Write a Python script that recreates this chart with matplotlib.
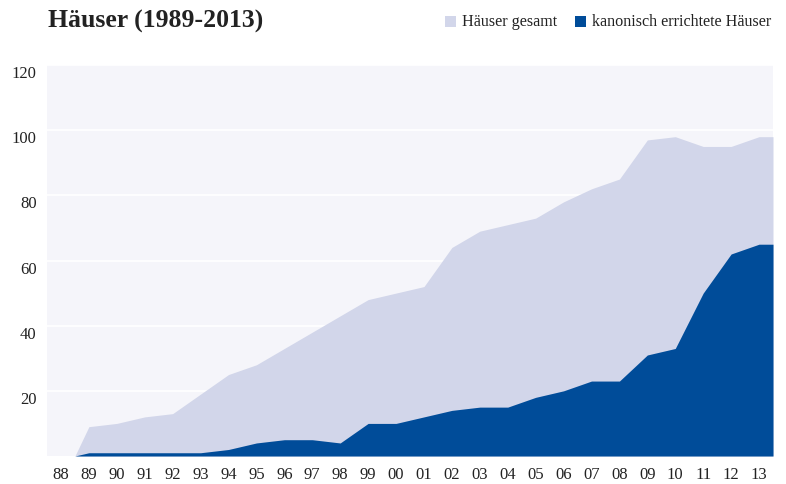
import matplotlib
matplotlib.use("Agg")
import matplotlib.pyplot as plt
from matplotlib.patches import Rectangle
from matplotlib.transforms import ScaledTranslation

years = ['88', '89', '90', '91', '92', '93', '94', '95', '96', '97', '98', '99', '00',
         '01', '02', '03', '04', '05', '06', '07', '08', '09', '10', '11', '12', '13']
# values for 1989..2013 (1988 has no data)
gesamt = [9, 10, 12, 13, 19, 25, 28, 33, 38, 43, 48, 50, 52, 64, 69, 71, 73, 78, 82, 85, 97, 98, 95, 95, 98]
kanonisch = [1, 1, 1, 1, 1, 2, 4, 5, 5, 4, 10, 10, 12, 14, 15, 15, 18, 20, 23, 23, 31, 33, 50, 62, 65]
yticks = [20, 40, 60, 80, 100, 120]

LIGHT = '#d2d6ea'
DARK = '#004c99'
BG = '#f5f5fa'
TXT = '#222222'
FONT = ['Liberation Serif', 'DejaVu Serif']

plt.rcParams['font.family'] = FONT

fig = plt.figure(figsize=(7.86, 4.84), dpi=100)
ax = fig.add_axes([47/786, 1-456/484, (773-47)/786, (456-65)/484])
ax.set_facecolor(BG)

n = len(years)
xs = list(range(1, n))
# area starts half a category before the first data point and runs to the edge
x_ext = [xs[0] - 0.5] + xs + [xs[-1] + 0.5]
g_ext = [0] + gesamt + [gesamt[-1]]
k_ext = [0] + kanonisch + [kanonisch[-1]]

ax.fill_between(x_ext, 0, g_ext, color=LIGHT, linewidth=0, zorder=2)
ax.fill_between(x_ext, 0, k_ext, color=DARK, linewidth=0, zorder=3)

ax.set_xlim(-0.5, n - 0.5)
ax.set_ylim(0, 120)
ax.set_yticks(yticks)
ax.set_yticklabels([str(v) for v in yticks])
ax.set_xticks(range(n))
ax.set_xticklabels(years)
ax.grid(axis='y', color='white', linewidth=1.2, zorder=1)
ax.set_axisbelow(True)
for s in ax.spines.values():
    s.set_visible(False)
ax.tick_params(axis='both', length=0, labelsize=12, colors=TXT)
ax.tick_params(axis='y', pad=7.5)
ax.tick_params(axis='x', pad=8)

off = ScaledTranslation(0, -7/100, fig.dpi_scale_trans)
for lab in ax.get_yticklabels():
    lab.set_transform(lab.get_transform() + off)

fig.text(48/786, 1-21/484, 'Häuser (1989-2013)', fontsize=18.5, fontweight='bold',
         color=TXT, va='center', ha='left', family=FONT)

# legend
sq = 11
fig.patches.append(Rectangle((445/786, 1-27/484), sq/786, sq/484, transform=fig.transFigure,
                             facecolor=LIGHT, edgecolor='none'))
fig.text(462/786, 1-22/484, 'Häuser gesamt', fontsize=11.6, color=TXT, va='center', ha='left')
fig.patches.append(Rectangle((575/786, 1-27/484), sq/786, sq/484, transform=fig.transFigure,
                             facecolor=DARK, edgecolor='none'))
fig.text(592/786, 1-22/484, 'kanonisch errichtete Häuser', fontsize=11.6, color=TXT, va='center', ha='left')

fig.savefig('out.png', dpi=100, facecolor='white')
